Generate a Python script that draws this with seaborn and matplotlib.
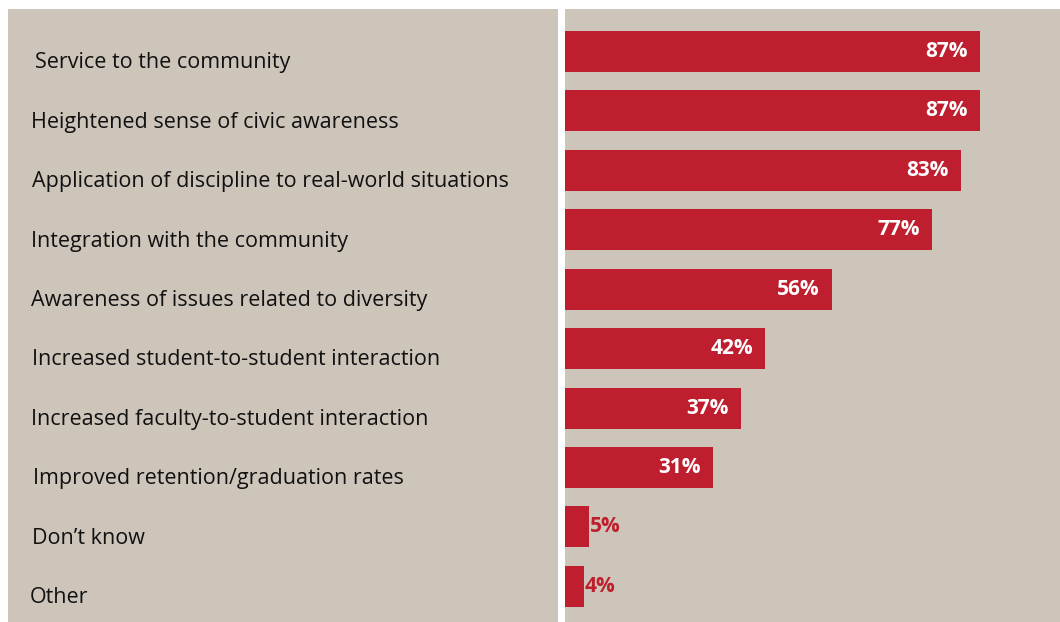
import matplotlib
matplotlib.use("Agg")
import matplotlib.pyplot as plt
import seaborn as sns
import pandas as pd

categories = [
    "Service to the community",
    "Heightened sense of civic awareness",
    "Application of discipline to real-world situations",
    "Integration with the community",
    "Awareness of issues related to diversity",
    "Increased student-to-student interaction",
    "Increased faculty-to-student interaction",
    "Improved retention/graduation rates",
    "Don\u2019t know",
    "Other",
]
percentages = [87, 87, 83, 77, 56, 42, 37, 31, 5, 4]

BG = "#cdc5ba"
RED = "#be1e2d"

sns.set_theme(style="white")
plt.rcParams["font.family"] = ["Open Sans", "DejaVu Sans"]

df = pd.DataFrame({"label": categories, "pct": percentages})

fig = plt.figure(figsize=(10.6, 6.22), dpi=100)
fig.patch.set_facecolor("white")

ax_lab = fig.add_axes([8 / 1060, 0, 550 / 1060, 1 - 9 / 622])
ax = fig.add_axes([565 / 1060, 0, 495 / 1060, 1 - 9 / 622])

sns.barplot(data=df, x="pct", y="label", orient="h", color=RED,
            width=0.69, saturation=1, linewidth=0, ax=ax)
ax.set_xlim(0, 103.8)
ax.set_xticks([])
ax.set_yticks([])
ax.set_xlabel("")
ax.set_ylabel("")

for a in (ax_lab, ax):
    a.set_facecolor(BG)
    for s in a.spines.values():
        s.set_visible(False)
    a.set_ylim(9.6, -0.715)

# value labels: white inside long bars, red outside short ones
for i, v in enumerate(percentages):
    if v >= 20:
        ax.text(v - 2.6, i, f"{v}%", ha="right", va="center",
                color="white", fontsize=15, fontweight="bold")
    else:
        ax.text(v + 0.2, i, f"{v}%", ha="left", va="center",
                color=RED, fontsize=15, fontweight="bold")

ax_lab.set_xlim(0, 550)
ax_lab.set_xticks([])
ax_lab.set_yticks([])
label_x = [27, 23, 24, 23, 23, 24, 23, 25, 24, 22]
for i, lab in enumerate(categories):
    ax_lab.text(label_x[i], i + 0.19, lab, ha="left", va="center",
                color="#111111", fontsize=15.5)

fig.savefig("out.png", dpi=100, facecolor=fig.get_facecolor())
